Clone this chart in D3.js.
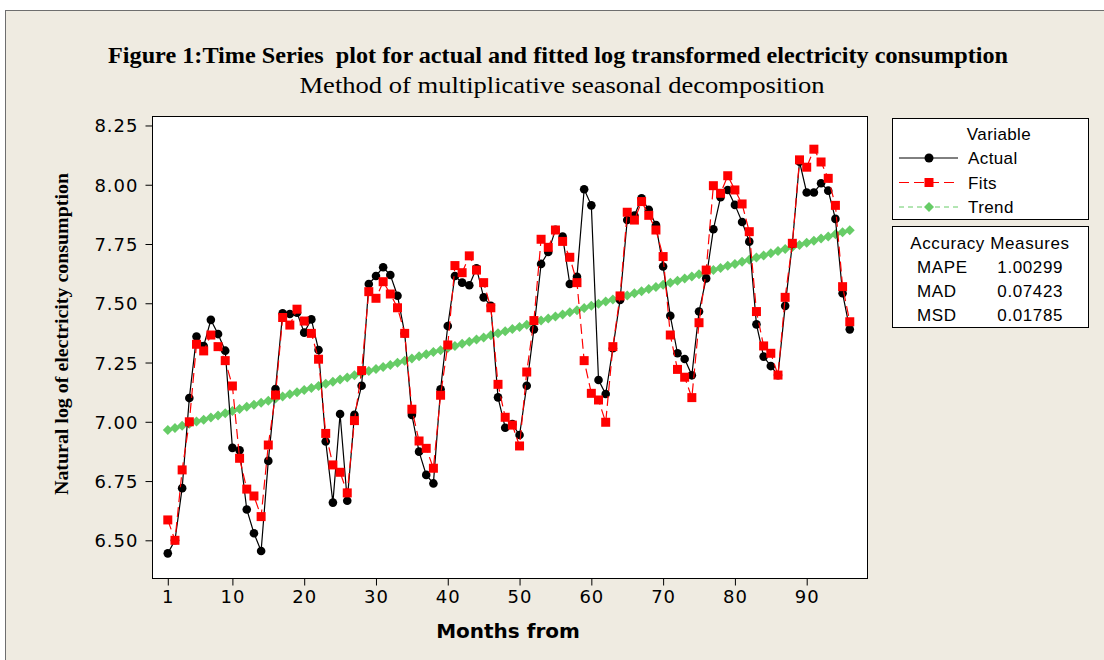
<!DOCTYPE html>
<html>
<head>
<meta charset="utf-8">
<script src="https://cdn.jsdelivr.net/npm/d3@7"></script>
<style>
  body { margin: 0; background: #fff; }
  svg { display: block; }
</style>
</head>
<body>
<script>
//chart values
var actual = [6.445, 6.50, 6.72, 7.10, 7.36, 7.32, 7.43, 7.37, 7.30, 6.89,
    6.88, 6.63, 6.53, 6.455, 6.835, 7.138, 7.458, 7.455, 7.46, 7.376,
    7.432, 7.303, 6.917, 6.659, 7.033, 6.667, 7.029, 7.152, 7.581, 7.615,
    7.652, 7.619, 7.532, 7.373, 7.029, 6.874, 6.776, 6.74, 7.137, 7.404,
    7.615, 7.587, 7.576, 7.648, 7.525, 7.489, 7.103, 6.975, 6.99, 6.944,
    7.152, 7.39, 7.666, 7.716, 7.81, 7.781, 7.581, 7.612, 7.981, 7.913,
    7.176, 7.117, 7.31, 7.514, 7.851, 7.87, 7.943, 7.894, 7.83, 7.655,
    7.447, 7.289, 7.265, 7.196, 7.465, 7.605, 7.812, 7.947, 7.978, 7.915,
    7.843, 7.76, 7.411, 7.275, 7.235, 7.197, 7.489, 7.75, 8.097, 7.967,
    7.967, 8.006, 7.975, 7.856, 7.542, 7.39];

var fits = [6.586, 6.50, 6.797, 7.00, 7.327, 7.299, 7.366, 7.317, 7.258, 7.151,
    6.846, 6.716, 6.687, 6.60, 6.902, 7.113, 7.44, 7.408, 7.475, 7.425,
    7.373, 7.264, 6.951, 6.818, 6.787, 6.70, 7.005, 7.216, 7.549, 7.521,
    7.591, 7.539, 7.481, 7.373, 7.053, 6.919, 6.888, 6.804, 7.112, 7.324,
    7.659, 7.629, 7.70, 7.64, 7.587, 7.481, 7.158, 7.019, 6.986, 6.898,
    7.21, 7.427, 7.77, 7.736, 7.809, 7.761, 7.694, 7.587, 7.258, 7.12,
    7.092, 6.998, 7.317, 7.531, 7.884, 7.851, 7.929, 7.871, 7.809, 7.697,
    7.366, 7.221, 7.188, 7.102, 7.418, 7.64, 7.996, 7.964, 8.038, 7.978,
    7.919, 7.802, 7.465, 7.32, 7.289, 7.197, 7.525, 7.753, 8.105, 8.074,
    8.15, 8.096, 8.027, 7.913, 7.57, 7.422];

var trend = [6.965, 6.974, 6.983, 6.992, 7.001, 7.009, 7.018, 7.027, 7.036, 7.045,
    7.054, 7.063, 7.072, 7.080, 7.089, 7.098, 7.107, 7.116, 7.125, 7.134,
    7.143, 7.151, 7.160, 7.169, 7.178, 7.187, 7.196, 7.205, 7.214, 7.223,
    7.231, 7.240, 7.249, 7.258, 7.267, 7.276, 7.285, 7.294, 7.302, 7.311,
    7.320, 7.329, 7.338, 7.347, 7.356, 7.365, 7.373, 7.382, 7.391, 7.400,
    7.409, 7.418, 7.427, 7.436, 7.444, 7.453, 7.462, 7.471, 7.480, 7.489,
    7.498, 7.507, 7.516, 7.524, 7.533, 7.542, 7.551, 7.560, 7.569, 7.578,
    7.587, 7.595, 7.604, 7.613, 7.622, 7.631, 7.640, 7.649, 7.658, 7.666,
    7.675, 7.684, 7.693, 7.702, 7.711, 7.720, 7.729, 7.737, 7.746, 7.755,
    7.764, 7.773, 7.782, 7.791, 7.800, 7.808];

var xTicks = [1, 10, 20, 30, 40, 50, 60, 70, 80, 90];
var yTicks = [6.50, 6.75, 7.00, 7.25, 7.50, 7.75, 8.00, 8.25];
var seriesNames = ["Actual", "Fits", "Trend"];
var measureNames = ["MAPE", "MAD", "MSD"];
var measureValues = ["1.00299", "0.07423", "0.01785"];

(function(){

    var width = 1104, height = 660;
    var plot = {left: 152, right: 867, top: 116, bottom: 578};

    var svg = d3.select("body")
        .append("svg")
        .attr("width", width)
        .attr("height", height);

    //page background and outer frame
    svg.append("rect")
        .attr("x", 5.5).attr("y", 10.5)
        .attr("width", width + 10).attr("height", height + 10)
        .attr("fill", "#efebe1")
        .attr("stroke", "#6e6e6e");

    var x = d3.scaleLinear()
        .domain([-1.2, 98.4])
        .range([plot.left, plot.right]);

    var y = d3.scaleLinear()
        .domain([6.341, 8.29])
        .range([plot.bottom, plot.top]);

    //white plot area
    svg.append("rect")
        .attr("x", plot.left + 0.5).attr("y", plot.top + 0.5)
        .attr("width", plot.right - plot.left).attr("height", plot.bottom - plot.top)
        .attr("fill", "#fff")
        .attr("stroke", "#000");

    //axes
    var xAxis = svg.append("g")
        .attr("transform", "translate(0," + (plot.bottom + 0.5) + ")")
        .call(d3.axisBottom(x).tickValues(xTicks).tickSize(7).tickSizeOuter(0).tickPadding(5));

    var yAxis = svg.append("g")
        .attr("transform", "translate(" + (plot.left + 0.5) + ",0)")
        .call(d3.axisLeft(y).tickValues(yTicks).tickFormat(d3.format(".2f")).tickSize(7).tickSizeOuter(0).tickPadding(7));

    [xAxis, yAxis].forEach(function(g){
        g.select(".domain").remove();
        g.selectAll("text")
            .attr("fill", "#000")
            .style("font-family", "'DejaVu Sans', Verdana, sans-serif")
            .style("font-size", "18px")
            .style("letter-spacing", "1px");
        g.selectAll("line").attr("stroke", "#000");
    });
    yAxis.selectAll("text").attr("dy", "0.36em");

    //titles
    svg.append("text")
        .attr("x", 558).attr("y", 63)
        .attr("text-anchor", "middle")
        .attr("textLength", 900)
        .attr("lengthAdjust", "spacingAndGlyphs")
        .style("white-space", "pre")
        .style("font-family", "'Liberation Serif', 'Times New Roman', serif")
        .style("font-weight", "bold")
        .style("font-size", "23px")
        .text("Figure 1:Time Series  plot for actual and fitted log transformed electricity consumption");

    svg.append("text")
        .attr("x", 562).attr("y", 93)
        .attr("text-anchor", "middle")
        .attr("textLength", 525)
        .attr("lengthAdjust", "spacingAndGlyphs")
        .style("font-family", "'Liberation Serif', 'Times New Roman', serif")
        .style("font-size", "23px")
        .text("Method of multiplicative seasonal decomposition");

    svg.append("text")
        .attr("transform", "translate(68,334) rotate(-90)")
        .attr("text-anchor", "middle")
        .attr("textLength", 322)
        .attr("lengthAdjust", "spacingAndGlyphs")
        .style("font-family", "'Liberation Serif', 'Times New Roman', serif")
        .style("font-weight", "bold")
        .style("font-size", "19px")
        .text("Natural log of electricity consumption");

    svg.append("text")
        .attr("x", 508).attr("y", 638)
        .attr("text-anchor", "middle")
        .style("font-family", "'DejaVu Sans', sans-serif")
        .style("font-weight", "bold")
        .style("font-size", "20px")
        .text("Months from");

    //marker shapes
    var diamond = "M0,-5L5,0L0,5L-5,0Z";
    function square(s){ return "M" + (-s) + "," + (-s) + "h" + (2 * s) + "v" + (2 * s) + "h" + (-2 * s) + "Z"; }

    var idx = function(d, i){ return x(i + 1); };

    //trend
    svg.append("path")
        .datum(trend)
        .attr("fill", "none")
        .attr("stroke", "#66cc66")
        .attr("stroke-dasharray", "5,4")
        .attr("d", d3.line().x(idx).y(function(d){ return y(d); }));
    svg.selectAll(".trendPt")
        .data(trend)
        .enter()
        .append("path")
        .attr("class", "trendPt")
        .attr("transform", function(d, i){ return "translate(" + x(i + 1) + "," + y(d) + ")"; })
        .attr("d", diamond)
        .attr("fill", "#66cc66");

    //actual
    svg.append("path")
        .datum(actual)
        .attr("fill", "none")
        .attr("stroke", "#000")
        .attr("stroke-width", 1.2)
        .attr("d", d3.line().x(idx).y(function(d){ return y(d); }));
    svg.selectAll(".actualPt")
        .data(actual)
        .enter()
        .append("circle")
        .attr("class", "actualPt")
        .attr("cx", idx)
        .attr("cy", function(d){ return y(d); })
        .attr("r", 4.3)
        .attr("fill", "#000");

    //fits
    svg.append("path")
        .datum(fits)
        .attr("fill", "none")
        .attr("stroke", "#ff0000")
        .attr("stroke-width", 1.2)
        .attr("stroke-dasharray", "10,5")
        .attr("d", d3.line().x(idx).y(function(d){ return y(d); }));
    svg.selectAll(".fitPt")
        .data(fits)
        .enter()
        .append("path")
        .attr("class", "fitPt")
        .attr("transform", function(d, i){ return "translate(" + x(i + 1) + "," + y(d) + ")"; })
        .attr("d", square(4.5))
        .attr("fill", "#ff0000");

    //legend box
    var legendFont = "'Liberation Sans', Arial, sans-serif";
    svg.append("rect")
        .attr("x", 892.5).attr("y", 118.5)
        .attr("width", 196).attr("height", 101)
        .attr("fill", "#fff").attr("stroke", "#000");
    svg.append("text")
        .attr("x", 999).attr("y", 140)
        .attr("text-anchor", "middle")
        .style("font-family", legendFont).style("font-size", "17px")
        .style("letter-spacing", "0.4px")
        .text("Variable");

    var styles = [
        {color: "#000", dash: null},
        {color: "#ff0000", dash: "10,5"},
        {color: "#66cc66", dash: "5,4"}
    ];
    var rows = svg.selectAll(".legendRow")
        .data(seriesNames)
        .enter()
        .append("g")
        .attr("class", "legendRow")
        .attr("transform", function(d, i){ return "translate(0," + (158 + i * 24.5) + ")"; });
    rows.append("line")
        .attr("x1", 899).attr("x2", 958)
        .attr("stroke", function(d, i){ return styles[i].color; })
        .attr("stroke-dasharray", function(d, i){ return styles[i].dash; });
    rows.each(function(d, i){
        var g = d3.select(this);
        if (i == 0) {
            g.append("circle").attr("cx", 929).attr("r", 4.5).attr("fill", "#000");
        } else if (i == 1) {
            g.append("path").attr("transform", "translate(929,0)").attr("d", square(4.5)).attr("fill", "#ff0000");
        } else {
            g.append("path").attr("transform", "translate(929,0)").attr("d", diamond).attr("fill", "#66cc66");
        }
    });
    rows.append("text")
        .attr("x", 968).attr("dy", "0.36em")
        .style("font-family", legendFont).style("font-size", "17px")
        .style("letter-spacing", "0.4px")
        .text(function(d){ return d; });

    //accuracy box
    svg.append("rect")
        .attr("x", 892.5).attr("y", 226.5)
        .attr("width", 196).attr("height", 101)
        .attr("fill", "#fff").attr("stroke", "#000");
    svg.append("text")
        .attr("x", 990).attr("y", 249)
        .attr("text-anchor", "middle")
        .style("font-family", legendFont).style("font-size", "17px")
        .style("letter-spacing", "0.6px")
        .text("Accuracy Measures");
    var mRows = svg.selectAll(".measureRow")
        .data(measureNames)
        .enter()
        .append("g")
        .attr("class", "measureRow")
        .attr("transform", function(d, i){ return "translate(0," + (267 + i * 23.7) + ")"; });
    mRows.append("text")
        .attr("x", 917).attr("dy", "0.36em")
        .style("font-family", legendFont).style("font-size", "17px")
        .style("letter-spacing", "0.6px")
        .text(function(d){ return d; });
    mRows.append("text")
        .attr("x", 1063).attr("dy", "0.36em")
        .attr("text-anchor", "end")
        .style("font-family", legendFont).style("font-size", "17px")
        .style("letter-spacing", "0.6px")
        .text(function(d, i){ return measureValues[i]; });

})();
</script>
</body>
</html>
